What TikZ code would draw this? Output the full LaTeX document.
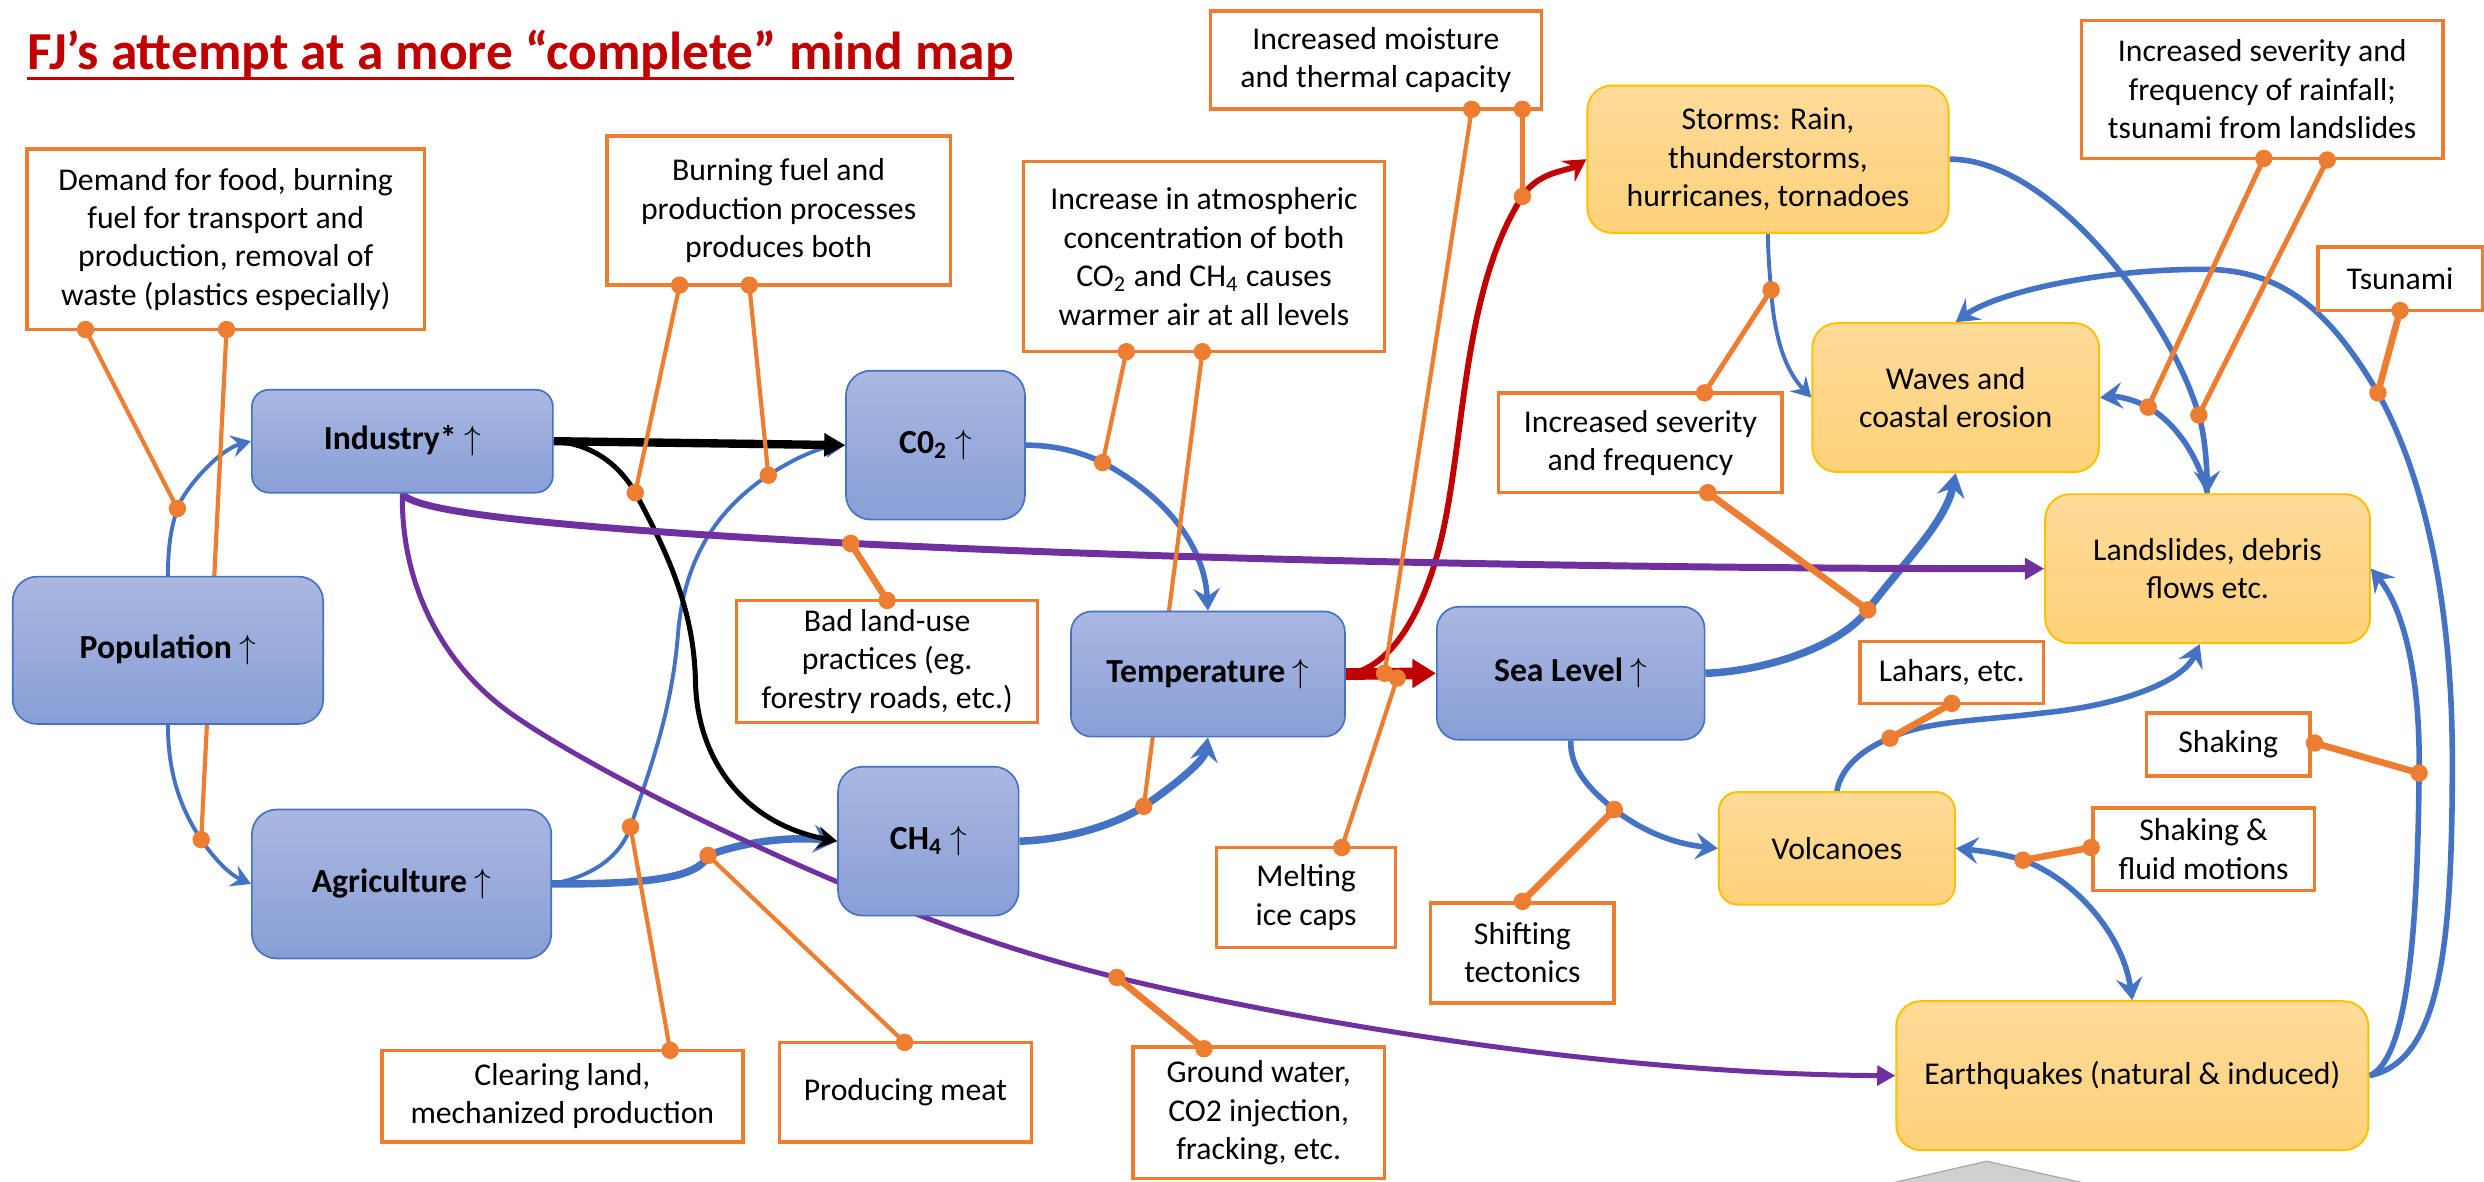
\documentclass[tikz,border=0pt]{standalone}
\usepackage{fontspec}
\setmainfont{Carlito}
\usetikzlibrary{arrows.meta}

\definecolor{nodeblue}{RGB}{68,114,196}
\definecolor{topblue}{RGB}{170,183,225}
\definecolor{botblue}{RGB}{136,159,214}
\definecolor{topgold}{RGB}{255,219,153}
\definecolor{botgold}{RGB}{255,210,122}
\definecolor{goldline}{RGB}{255,192,0}
\definecolor{accent}{RGB}{237,125,49}
\definecolor{plum}{RGB}{112,48,160}
\definecolor{darkred}{RGB}{192,0,0}
\definecolor{tri}{RGB}{208,208,208}

\newcommand\bodyfont{\fontsize{11.4}{13.8}\selectfont}
\newcommand\boldfont{\fontsize{12.1}{14.5}\selectfont\bfseries}
\newcommand\up{ $\uparrow$}

% box from corner (x1,y1) to (x2,y2), y counted downward
\newcommand\placebox[7]{%
  \pgfmathsetmacro\mmW{(#5-#3)*0.02}%
  \pgfmathsetmacro\mmH{(#6-#4)*0.02}%
  \pgfmathsetmacro\mmR{min(\mmW,\mmH)/6}%
  \node[minimum width=\mmW cm, minimum height=\mmH cm, rounded corners=\mmR cm, #1]
    (#2) at ({(#3+#5)/2},{(#4+#6)/2}) {#7};}

\pgfdeclarelayer{paper}
\pgfdeclarelayer{links}
\pgfdeclarelayer{dots}
\pgfsetlayers{paper,links,main,dots}

\tikzset{
  drivernode/.style={draw=nodeblue, line width=0.6pt, top color=topblue, bottom color=botblue,
    align=center, font=\boldfont, inner sep=1pt},
  hazardnode/.style={draw=goldline, line width=0.7pt, top color=topgold, bottom color=botgold,
    align=center, font=\bodyfont, inner sep=1pt},
  notebox/.style={draw=accent, line width=1.3pt, fill=white, align=center, font=\bodyfont,
    sharp corners, inner sep=1pt},
  bluelink/.style={draw=nodeblue, line width=1.4pt, -{Stealth[length=7pt,width=8pt,inset=2.5pt]}},
  bluemid/.style={bluelink, line width=2pt, -{Stealth[length=8pt,width=9.5pt,inset=3pt]}},
  bluethick/.style={bluelink, line width=2.7pt, -{Stealth[length=8.5pt,width=10pt,inset=3pt]}},
  blacklink/.style={draw=black, line width=1.8pt, -{Stealth[length=7pt,width=8pt,inset=2.5pt]}},
  blackthick/.style={draw=black, line width=3pt, -{Triangle[length=7.5pt,width=8pt]}},
  redlink/.style={draw=darkred, line width=2.1pt, -{Stealth[length=8pt,width=9pt,inset=3pt]}},
  redthick/.style={draw=darkred, line width=4.2pt, -{Triangle[length=8.5pt,width=10pt]}},
  plumlink/.style={draw=plum, line width=1.8pt, -{Triangle[length=6.5pt,width=7pt]}},
  plumthick/.style={draw=plum, line width=2.5pt, -{Triangle[length=7pt,width=7.5pt]}},
  orangelink/.style={draw=accent, line width=1.5pt},
  orangethick/.style={draw=accent, line width=2.4pt},
  dotmark/.style={fill=accent},
}

\begin{document}
\begin{tikzpicture}[x=0.02cm, y=-0.02cm]
\useasboundingbox (0,0) rectangle (1568,746);
\begin{pgfonlayer}{paper}
  \fill[white] (0,0) rectangle (1568,746);
\end{pgfonlayer}

% ---------- title ----------
\node[anchor=base west, inner sep=0pt, text=darkred, font=\fontsize{19.2}{23}\selectfont\bfseries]
  (title) at (17,44) {FJ’s attempt at a more “complete” mind map};
\draw[darkred, line width=1.1pt] ([yshift=-3.2pt]title.base west) -- ([yshift=-3.2pt]title.base east);

% ---------- drivers ----------
\placebox{drivernode}{pop}{8}{364}{204}{457}{Population\up}
\placebox{drivernode}{ind}{159}{246}{349}{311}{Industry*\up}
\placebox{drivernode}{agr}{159}{511}{348}{605}{Agriculture\up}
\placebox{drivernode}{co2}{534}{234}{647}{328}{C0\textsubscript{2}\up}
\placebox{drivernode}{ch4}{529}{484}{643}{578}{CH\textsubscript{4}\up}
\placebox{drivernode}{temp}{676}{386}{849}{465}{Temperature\up}
\placebox{drivernode}{sea}{907}{383}{1076}{467}{Sea Level\up}

% ---------- hazards ----------
\placebox{hazardnode}{storm}{1002}{54}{1230}{147}{Storms: Rain,\\ thunderstorms,\\ hurricanes, tornadoes}
\placebox{hazardnode}{waves}{1144}{204}{1325}{298}{Waves and\\ coastal erosion}
\placebox{hazardnode}{land}{1291}{312}{1496}{406}{Landslides, debris\\ flows etc.}
\placebox{hazardnode}{volc}{1085}{500}{1234}{571}{Volcanoes}
\placebox{hazardnode}{quake}{1197}{632}{1495}{726}{Earthquakes (natural \& induced)}

% ---------- notes ----------
\placebox{notebox}{ndemand}{17}{94}{268}{208}{Demand for food, burning\\ fuel for transport and\\ production, removal of\\ waste (plastics especially)}
\placebox{notebox}{nburn}{383}{86}{600}{180}{Burning fuel and\\ production processes\\ produces both}
\placebox{notebox}{nincr}{646}{102}{874}{222}{Increase in atmospheric\\ concentration of both\\ CO\textsubscript{2} and CH\textsubscript{4} causes\\ warmer air at all levels}
\placebox{notebox}{nmoist}{764}{7}{973}{69}{Increased moisture\\ and thermal capacity}
\placebox{notebox}{nrain}{1314}{13}{1542}{100}{Increased severity and\\ frequency of rainfall;\\ tsunami from landslides}
\placebox{notebox}{ntsu}{1463}{156}{1567}{196}{Tsunami}
\placebox{notebox}{nsev}{946}{248}{1125}{311}{Increased severity\\ and frequency}
\placebox{notebox}{nbad}{465}{379}{655}{456}{Bad land-use\\ practices (eg.\\ forestry roads, etc.)}
\placebox{notebox}{nlahar}{1174}{405}{1290}{444}{Lahars, etc.}
\placebox{notebox}{nshake}{1355}{450}{1458}{490}{Shaking}
\placebox{notebox}{nfluid}{1321}{510}{1461}{562}{Shaking \&\\ fluid motions}
\placebox{notebox}{nshift}{903}{570}{1019}{633}{Shifting\\ tectonics}
\placebox{notebox}{nmelt}{768}{535}{881}{598}{Melting\\ ice caps}
\placebox{notebox}{nclear}{241}{663}{469}{721}{Clearing land,\\ mechanized production}
\placebox{notebox}{nmeat}{492}{658}{651}{721}{Producing meat}
\placebox{notebox}{nground}{715}{661}{874}{744}{Ground water,\\ CO2 injection,\\ fracking, etc.}

% ---------- attachment points ----------
\coordinate (a1) at (54,208);   \coordinate (a2) at (143,208);
\coordinate (p1) at (112,321);  \coordinate (p2) at (127,530);
\coordinate (b1) at (429,180);  \coordinate (b2) at (473,180);
\coordinate (k1) at (401,311);  \coordinate (g1) at (485,300);
\coordinate (c1) at (711,222);  \coordinate (c2) at (759,222);
\coordinate (t1) at (696,292);  \coordinate (t2) at (722,509);
\coordinate (m1) at (929,69);   \coordinate (m2) at (961,69);
\coordinate (r1) at (961,124);  \coordinate (r2) at (874,425);
\coordinate (me) at (847,535);  \coordinate (r3) at (882,428);
\coordinate (bd) at (560,379);  \coordinate (u1) at (537,343);
\coordinate (cl) at (423,663);  \coordinate (g2) at (398,522);
\coordinate (mt) at (571,658);  \coordinate (g3) at (447,540);
\coordinate (gw) at (760,662);  \coordinate (u2) at (705,617);
\coordinate (s1) at (1076,248); \coordinate (s2) at (1078,311);
\coordinate (w1) at (1118,183); \coordinate (w2) at (1179,385);
\coordinate (n1) at (1429,100); \coordinate (n2) at (1469,101);
\coordinate (h1) at (1356,257); \coordinate (h2) at (1388,262);
\coordinate (ts) at (1515,196); \coordinate (q1) at (1501,248);
\coordinate (la) at (1232,444); \coordinate (v1) at (1193,466);
\coordinate (sk) at (1461,469); \coordinate (q2) at (1527,488);
\coordinate (fl) at (1320,535); \coordinate (v2) at (1277,543);
\coordinate (sf) at (961,569);  \coordinate (e1) at (1019,511);

\begin{pgfonlayer}{links}
  % blue causal links
  \draw[bluelink] (pop.north) .. controls (106,345) and (108,333) .. (p1)
                  .. controls (116,309) and (138,284) .. (ind.west);
  \draw[bluelink] (pop.south) .. controls (106,490) and (115,512) .. (p2)
                  .. controls (135,542) and (145,552) .. (agr.west);
  \draw[bluelink] (agr.east) .. controls (375,553) and (392,540) .. (g2)
                  .. controls (410,486) and (424,450) .. (428,400)
                  .. controls (432,350) and (455,320) .. (g1)
                  .. controls (505,287) and (520,282) .. (co2.west);
  \draw[bluethick] (agr.east) .. controls (400,558) and (440,556) .. (g3)
                  .. controls (470,531) and (500,528) .. (ch4.west);
  \draw[bluemid] (co2.east) .. controls (665,281) and (682,285) .. (t1)
                  .. controls (730,310) and (760,340) .. (temp.north);
  \draw[bluethick] (ch4.east) .. controls (675,530) and (705,520) .. (t2)
                  .. controls (745,493) and (760,480) .. (temp.south);
  \draw[bluethick] (sea.east) .. controls (1110,424) and (1160,410) .. (w2)
                  .. controls (1200,357) and (1228,330) .. (waves.south);
  \draw[bluemid] (sea.south) .. controls (991,485) and (1003,498) .. (e1)
                  .. controls (1040,527) and (1060,533) .. (volc.west);
  \draw[bluelink] (storm.south) .. controls (1116,160) and (1117,172) .. (w1)
                  .. controls (1120,215) and (1128,235) .. (waves.west);
  \draw[bluemid] (storm.east) .. controls (1295,100) and (1370,200) .. (h2)
                  .. controls (1392,276) and (1393,295) .. (land.north);
  \draw[bluemid] (land.north) .. controls (1388,290) and (1375,268) .. (h1)
                  .. controls (1347,252) and (1336,250) .. (waves.east);
  \draw[bluemid] (quake.east) .. controls (1540,670) and (1548,600) .. (1548,480)
                  .. controls (1548,380) and (1530,300) .. (q1)
                  .. controls (1470,195) and (1440,170) .. (1391,170)
                  .. controls (1320,170) and (1258,186) .. (waves.north);
  \draw[bluemid] (quake.east) .. controls (1518,670) and (1526,600) .. (q2)
                  .. controls (1528,430) and (1518,385) .. (land.east);
  \draw[bluemid] (volc.north) .. controls (1162,485) and (1175,473) .. (v1)
                  .. controls (1215,455) and (1250,455) .. (1290,450)
                  .. controls (1340,445) and (1378,430) .. ([xshift=-0.1cm]land.south);
  \draw[bluemid, {Stealth[length=8pt,width=9.5pt,inset=3pt]}-{Stealth[length=8pt,width=9.5pt,inset=3pt]}]
        (volc.east) .. controls (1250,537) and (1265,539) .. (v2)
                  .. controls (1310,555) and (1340,590) .. (quake.north);

  % black links
  \draw[blacklink] (ind.east) .. controls (375,280) and (392,295) .. (k1)
                  .. controls (422,350) and (438,385) .. (439,430)
                  .. controls (440,480) and (470,520) .. (ch4.west);
  \draw[blackthick] (ind.east) -- (co2.west);

  % red links
  \draw[redlink] (temp.east) .. controls (875,424) and (900,390) .. (912,330)
                  .. controls (925,265) and (925,180) .. (r1)
                  .. controls (971,108) and (990,108) .. (storm.west);
  \draw[redthick] (temp.east) -- (sea.west);

  % purple links
  \draw[plumthick] (ind.south) .. controls (260,322) and (330,332) .. (u1)
                  .. controls (800,356) and (1100,359) .. (land.west);
  \draw[plumlink] (ind.south) .. controls (253,370) and (280,420) .. (322,450)
                  .. controls (364,480) and (470,535) .. (581,578)
                  .. controls (620,593) and (660,606) .. (u2)
                  .. controls (800,640) and (1000,678) .. (quake.west);

  % note leaders
  \draw[orangelink] (a1) -- (p1);
  \draw[orangelink] (a2) -- (p2);
  \draw[orangelink] (b1) -- (k1);
  \draw[orangelink] (b2) -- (g1);
  \draw[orangelink] (c1) -- (t1);
  \draw[orangelink] (c2) -- (t2);
  \draw[orangelink] (m1) -- (r2);
  \draw[orangelink] (m2) -- (r1);
  \draw[orangelink] (me) -- (r3);
  \draw[orangethick] (bd) -- (u1);
  \draw[orangelink] (cl) -- (g2);
  \draw[orangelink] (mt) -- (g3);
  \draw[orangethick] (gw) -- (u2);
  \draw[orangelink, line width=1.8pt] (s1) -- (w1);
  \draw[orangethick] (s2) -- (w2);
  \draw[orangelink, line width=1.8pt] (n1) -- (h1);
  \draw[orangelink, line width=1.8pt] (n2) -- (h2);
  \draw[orangethick] (ts) -- (q1);
  \draw[orangethick] (la) -- (v1);
  \draw[orangethick] (sk) -- (q2);
  \draw[orangethick] (fl) -- (v2);
  \draw[orangethick] (sf) -- (e1);
\end{pgfonlayer}

\begin{pgfonlayer}{dots}
  \foreach \d in {a1,a2,p1,p2,b1,b2,k1,g1,c1,c2,t1,t2,m1,m2,r1,r2,me,r3,bd,u1,cl,g2,mt,g3,
                  gw,u2,s1,s2,w1,w2,n1,n2,h1,h2,ts,q1,la,v1,sk,q2,fl,v2,sf,e1}
    \fill[dotmark] (\d) circle[radius=0.11cm];
\end{pgfonlayer}

% ---------- partial shape at the lower edge ----------
\filldraw[fill=tri, draw=gray!70, line width=0.4pt] (1180,750) -- (1254,733) -- (1330,750);

\end{tikzpicture}
\end{document}
